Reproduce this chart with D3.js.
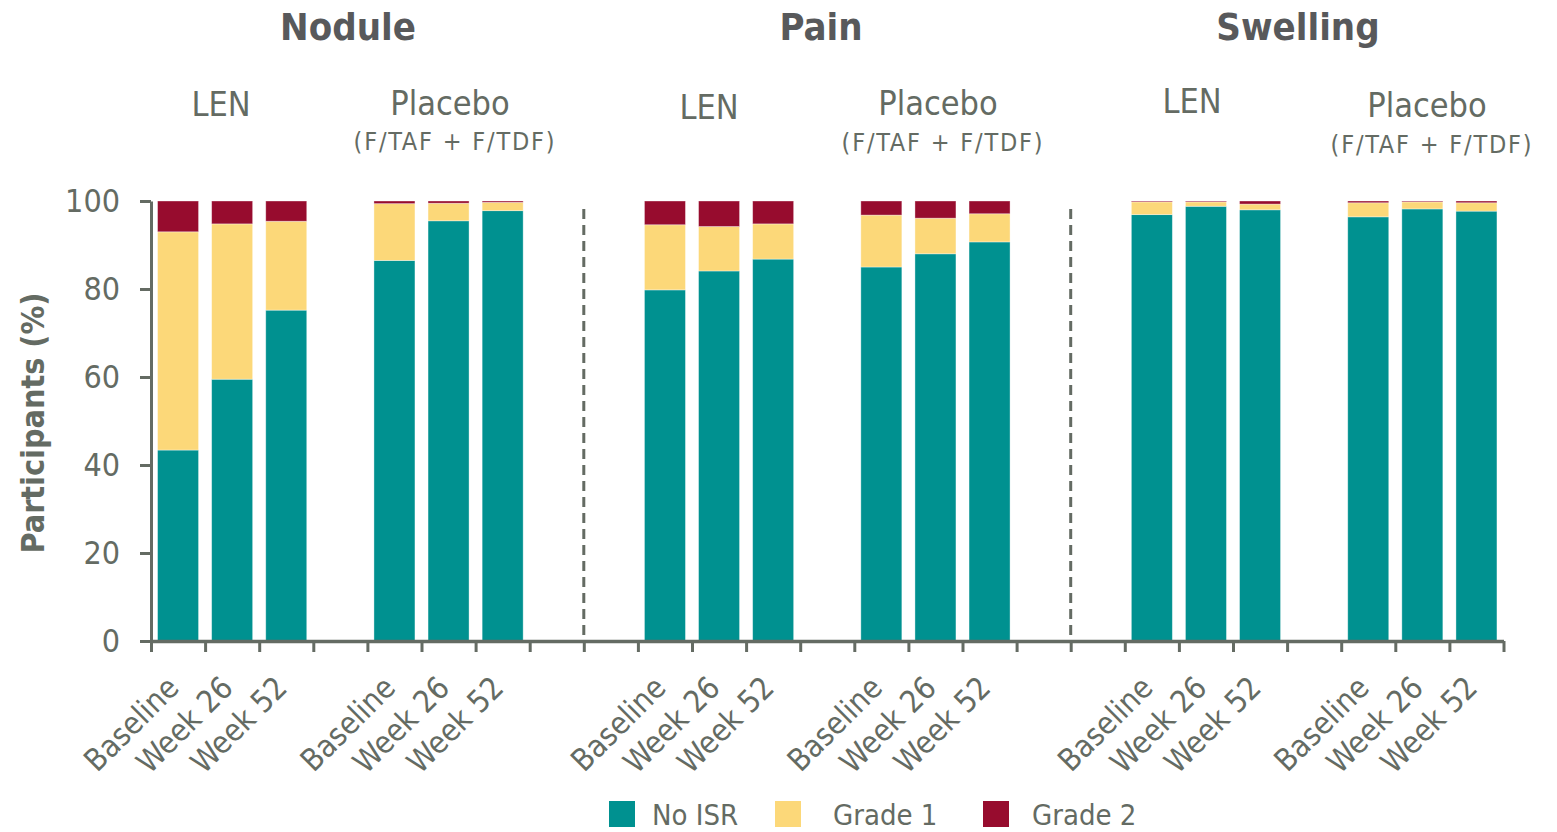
<!DOCTYPE html>
<html><head><meta charset="utf-8">
<script src="https://cdn.jsdelivr.net/npm/d3@7"></script>
<style>
html,body{margin:0;padding:0;background:#fff;}
svg{display:block;}
text{font-family:"DejaVu Sans Condensed","DejaVu Sans",sans-serif;font-stretch:condensed;}
</style></head>
<body>
<svg id="chart" width="1557" height="832"></svg>
<script>
// ---- data ----
const timepoints = ["Baseline", "Week 26", "Week 52"];
const panels = ["Nodule", "Pain", "Swelling"];
const arms = ["LEN", "Placebo"];
const armSubLabels = ["", "(F/TAF + F/TDF)"];
const seriesNames = ["No ISR", "Grade 1", "Grade 2"];
// values in order: Nodule LEN (B, W26, W52), Nodule Placebo, Pain LEN, Pain Placebo, Swelling LEN, Swelling Placebo
const noISR  = [43.4, 59.5, 75.2, 86.5, 95.5, 97.8, 79.8, 84.1, 86.8, 85.0, 88.0, 90.7, 96.9, 98.8, 98.0, 96.4, 98.2, 97.7];
const grade1 = [49.6, 35.3, 20.2, 12.9, 4.0, 1.9, 14.8, 10.1, 8.0, 11.8, 8.1, 6.4, 2.9, 1.0, 1.3, 3.2, 1.6, 1.9];
const grade2 = [7.0, 5.2, 4.6, 0.6, 0.5, 0.3, 5.4, 5.8, 5.2, 3.2, 3.9, 2.9, 0.2, 0.2, 0.7, 0.4, 0.2, 0.4];
const yTicks = [0, 20, 40, 60, 80, 100];
const yLabel = "Participants (%)";

// ---- layout ----
const colors = ["#009190", "#FCD879", "#970C2E"];
const grey = "#646b63";
const titleGrey = "#58595b";
const nSlots = 25;
// slot index of each bar group start (3 bars each)
const groupSlots = [0, 4, 9, 13, 18, 22];
const separatorSlots = [8, 17];

const svg = d3.select("#chart");
const x = d3.scaleLinear().domain([0, nSlots]).range([151, 1503.5]);
const y = d3.scaleLinear().domain([0, 100]).range([641, 201]);
const barW = 41;

// build bar records
const bars = [];
groupSlots.forEach((gs, g) => {
  timepoints.forEach((tp, t) => {
    const i = g * 3 + t;
    const vals = [noISR[i], grade1[i], grade2[i]];
    let cum = 0;
    const slot = gs + t;
    vals.forEach((v, s) => {
      bars.push({slot, s, y0: cum, y1: cum + v});
      cum += v;
    });
  });
});

// bars
svg.append("g").selectAll("rect").data(bars).join("rect")
  .attr("x", d => x(d.slot + 0.5) - barW / 2)
  .attr("width", barW)
  .attr("y", d => y(d.y1))
  .attr("height", d => y(d.y0) - y(d.y1))
  .attr("fill", d => colors[d.s])
  .attr("stroke", "rgba(255,255,255,0.45)")
  .attr("stroke-width", 0.8);

// dashed separators
svg.append("g").selectAll("line").data(separatorSlots).join("line")
  .attr("x1", d => x(d)).attr("x2", d => x(d))
  .attr("y1", 209).attr("y2", y(0))
  .attr("stroke", grey).attr("stroke-width", 3)
  .attr("stroke-dasharray", "10,6");

// y axis
const yAxis = d3.axisLeft(y).tickValues(yTicks).tickSize(11).tickSizeOuter(0).tickPadding(20);
const gy = svg.append("g").attr("transform", `translate(${x(0)},0)`).call(yAxis);
gy.select(".domain").attr("stroke", grey).attr("stroke-width", 3);
gy.selectAll(".tick line").attr("stroke", grey).attr("stroke-width", 3);
gy.selectAll(".tick text").attr("fill", grey).attr("font-size", 32)
  .style("font-family", '"DejaVu Sans Condensed","DejaVu Sans",sans-serif');

// x axis (slot boundaries)
const xAxis = d3.axisBottom(x).tickValues(d3.range(0, nSlots + 1)).tickSize(11).tickSizeOuter(0).tickFormat("");
const gx = svg.append("g").attr("transform", `translate(0,${y(0)})`).call(xAxis);
gx.select(".domain").attr("stroke", grey).attr("stroke-width", 3.5);
gx.selectAll(".tick line").attr("stroke", grey).attr("stroke-width", 3);

// x category labels
const labelData = [];
groupSlots.forEach(gs => timepoints.forEach((tp, t) => labelData.push({slot: gs + t, tp})));
svg.append("g").selectAll("text").data(labelData).join("text")
  .attr("transform", d => `translate(${x(d.slot + 0.5) - 5},${682}) rotate(-45)`)
  .attr("text-anchor", "end")
  .attr("dy", "0.35em")
  .attr("fill", grey)
  .attr("font-size", 31)
  .text(d => d.tp);

// y label
svg.append("text")
  .attr("transform", "translate(44,423) rotate(-90)")
  .attr("text-anchor", "middle")
  .attr("fill", grey).attr("font-weight", "bold").attr("font-size", 32)
  .text(yLabel);

// panel titles
const titlePos = [348, 821, 1298];
svg.append("g").selectAll("text").data(panels).join("text")
  .attr("x", (d, i) => titlePos[i]).attr("y", 40)
  .attr("text-anchor", "middle")
  .attr("fill", titleGrey).attr("font-weight", "bold").attr("font-size", 38)
  .text(d => d);

// arm labels
const armLabelPos = [
  {x: 221, y: 116, a: 0}, {x: 450, y: 115, a: 1, sy: 150, sx: 455},
  {x: 709, y: 119, a: 0}, {x: 938, y: 115, a: 1, sy: 151, sx: 943},
  {x: 1192, y: 113, a: 0}, {x: 1427, y: 117, a: 1, sy: 153, sx: 1432}
];
const ag = svg.append("g");
ag.selectAll("text.arm").data(armLabelPos).join("text").attr("class", "arm")
  .attr("x", d => d.x).attr("y", d => d.y)
  .attr("text-anchor", "middle").attr("fill", grey).attr("font-size", 34)
  .text(d => arms[d.a]);
ag.selectAll("text.sub").data(armLabelPos.filter(d => d.a === 1)).join("text").attr("class", "sub")
  .attr("x", d => d.sx).attr("y", d => d.sy)
  .attr("text-anchor", "middle").attr("fill", grey).attr("font-size", 25)
  .attr("letter-spacing", 1.8)
  .text(d => armSubLabels[d.a]);

// legend
const legX = [609, 775, 983];
const legTextX = [652, 833, 1032];
const lg = svg.append("g");
lg.selectAll("rect").data(seriesNames).join("rect")
  .attr("x", (d, i) => legX[i]).attr("y", 801).attr("width", 26).attr("height", 26)
  .attr("fill", (d, i) => colors[i]);
lg.selectAll("text").data(seriesNames).join("text")
  .attr("x", (d, i) => legTextX[i]).attr("y", 825)
  .attr("fill", grey).attr("font-size", 29)
  .text(d => d);
</script>
</body></html>
